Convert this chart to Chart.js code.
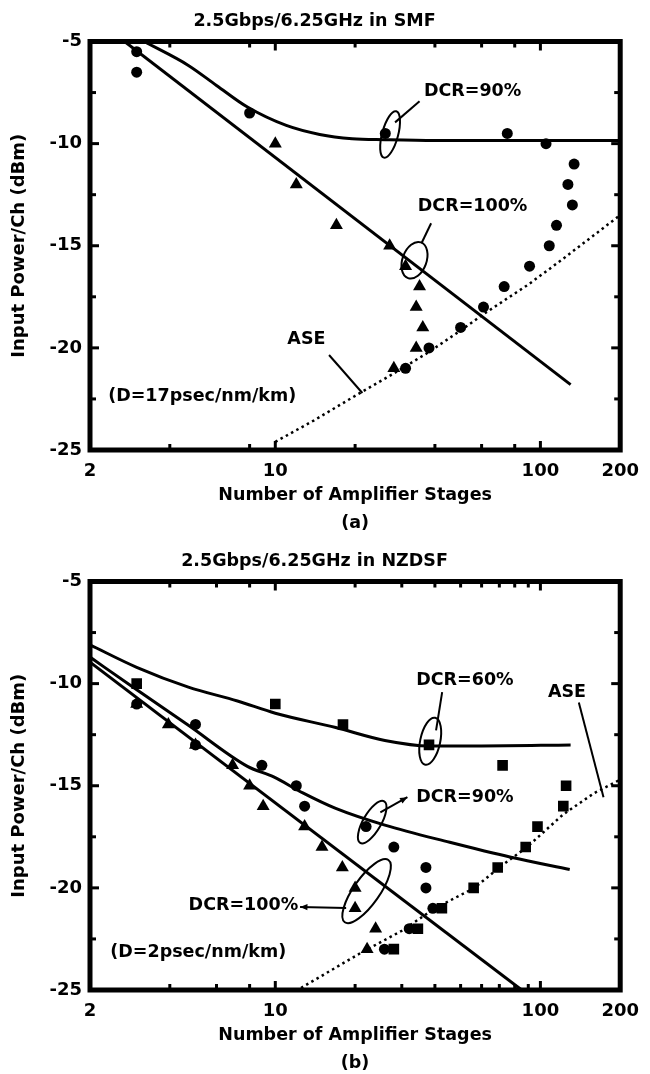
<!DOCTYPE html>
<html>
<head>
<meta charset="utf-8">
<title>Input power vs number of amplifier stages</title>
<script src="https://cdn.jsdelivr.net/npm/chart.js@4.4.1/dist/chart.umd.min.js"></script>
<style>
  body { margin: 0; background: #fff; overflow: hidden; }
  .panel { position: absolute; left: 0; width: 650px; height: 537px; }
</style>
</head>
<body>
<div class="panel" style="top:0"><canvas id="smfChart" width="650" height="537"></canvas></div>
<div class="panel" style="top:540px"><canvas id="nzdsfChart" width="650" height="537"></canvas></div>
<script>
// ---- axes ----
const stageTicks = [2, 10, 100, 200];
const majorStages = [10, 100];
const smfMinorStages = [4, 8, 20, 40, 60, 80];
const nzMinorStages = [4, 6, 8, 20, 30, 40, 50, 60, 70, 80, 90];
const powerTicks = [-25, -20, -15, -10, -5];
const majorPower = [-20, -15, -10];
const minorPower = [-22.5, -17.5, -12.5, -7.5];

// ---- (a) SMF, D = 17 ps/nm/km ----
const smf90X = [3, 3, 8, 26, 75, 105, 134, 127, 132, 115, 108, 91, 73, 61, 50, 38, 31];
const smf90Y = [-5.5, -6.5, -8.5, -9.5, -9.5, -10, -11, -12, -13, -14, -15, -16, -17, -18, -19, -20, -21];
const smf100X = [10, 12, 17, 27, 31, 35, 34, 36, 34, 28];
const smf100Y = [-10, -12, -14, -15, -16, -17, -18, -19, -20, -21];
const smfFit90X = [3.2, 4.7, 6, 7.85, 11, 14.7, 19.5, 26, 40, 200];
const smfFit90Y = [-5, -6.17, -7.15, -8.21, -9.11, -9.55, -9.76, -9.81, -9.85, -9.85];
const smfFit100X = [2.7, 130];
const smfFit100Y = [-5, -21.8];
const smfAseX = [10, 14, 20, 28, 38, 50, 61, 90, 120, 200];
const smfAseY = [-24.6, -23.55, -22.35, -21.25, -20.2, -19.15, -18.35, -16.9, -15.7, -13.5];

// ---- (b) NZDSF, D = 2 ps/nm/km ----
const nz60X = [3, 10, 18, 38, 72, 125, 122, 97.5, 88, 69, 56, 42.5, 34.5, 28];
const nz60Y = [-10, -11, -12, -13, -14, -15, -16, -17, -18, -19, -20, -21, -22, -23];
const nz90X = [3, 5, 5, 8.9, 12, 12.9, 22, 28, 37, 37, 39.3, 32, 25.8];
const nz90Y = [-11, -12, -13, -14, -15, -16, -17, -18, -19, -20, -21, -22, -23];
const nz100X = [3, 3.95, 5, 6.9, 8, 9, 12.9, 15, 17.9, 20, 20, 23.9, 22.2];
const nz100Y = [-11, -12, -13, -14, -15, -16, -17, -18, -19, -20, -21, -22, -23];
const nzFit60X = [2, 3, 4.7, 7.2, 10, 16.9, 25.9, 38, 60, 130];
const nzFit60Y = [-8.1, -9.2, -10.17, -10.85, -11.45, -12.15, -12.78, -13.05, -13.05, -13.0];
const nzFit90X = [2, 2.9, 4.7, 7.85, 9.86, 12.7, 16.9, 25.9, 45.5, 77.4, 129];
const nzFit90Y = [-8.7, -10.17, -12.04, -14.05, -14.57, -15.35, -16.11, -16.93, -17.77, -18.5, -19.1];
const nzFit100X = [2, 85];
const nzFit100Y = [-8.95, -25];
const nzAseX = [12.5, 20.9, 30, 40, 56.4, 70, 89, 122, 160, 200];
const nzAseY = [-24.9, -23.2, -22.1, -21.0, -20.0, -19.0, -18.0, -16.4, -15.35, -14.7];

Chart.defaults.font.family = '"DejaVu Sans", sans-serif';
Chart.defaults.font.weight = 'bold';
Chart.defaults.color = '#000';

const pts = (xs, ys) => xs.map((x, i) => ({ x, y: ys[i] }));

function markers(xs, ys, style, r) {
  return {
    data: pts(xs, ys), showLine: false,
    pointStyle: style, pointRadius: r,
    pointBackgroundColor: '#000', pointBorderWidth: 0
  };
}

function curve(xs, ys, smooth, dotted) {
  return {
    data: pts(xs, ys), showLine: true, pointRadius: 0,
    borderColor: '#000', borderWidth: dotted ? 2.5 : 3,
    borderDash: dotted ? [2.5, 3.5] : [],
    cubicInterpolationMode: smooth ? 'monotone' : 'default', tension: 0
  };
}

// frame with inward ticks, plus the hand-drawn callouts
const panelDecor = {
  id: 'panelDecor',
  afterDatasetsDraw(chart, _args, opts) {
    const { ctx, chartArea: a, scales: { x, y } } = chart;
    ctx.save();
    ctx.strokeStyle = '#000';
    ctx.fillStyle = '#000';
    ctx.lineWidth = 5;
    ctx.strokeRect(a.left, a.top, a.right - a.left, a.bottom - a.top);

    const seg = (x0, y0, x1, y1) => { ctx.beginPath(); ctx.moveTo(x0, y0); ctx.lineTo(x1, y1); ctx.stroke(); };
    ctx.lineWidth = 3;
    const xTick = (v, len) => {
      const px = x.getPixelForValue(v);
      seg(px, a.top, px, a.top + len);
      seg(px, a.bottom, px, a.bottom - len);
    };
    const yTick = (v, len) => {
      const py = y.getPixelForValue(v);
      seg(a.left, py, a.left + len, py);
      seg(a.right, py, a.right - len, py);
    };
    opts.minorStages.forEach(v => xTick(v, 6));
    majorStages.forEach(v => xTick(v, 9));
    minorPower.forEach(v => yTick(v, 6));
    majorPower.forEach(v => yTick(v, 9));

    ctx.lineWidth = 2;
    ctx.font = 'bold 17.5px "DejaVu Sans", sans-serif';
    ctx.textAlign = 'center';
    ctx.textBaseline = 'middle';
    opts.notes.forEach(n => {
      if (n.text) {
        ctx.fillText(n.text, x.getPixelForValue(n.x), y.getPixelForValue(n.y));
      } else if (n.ellipse) {
        ctx.beginPath();
        ctx.ellipse(x.getPixelForValue(n.x), y.getPixelForValue(n.y), n.ellipse[0], n.ellipse[1],
          n.ellipse[2] * Math.PI / 180, 0, Math.PI * 2);
        ctx.stroke();
      } else if (n.from) {
        const x0 = x.getPixelForValue(n.from[0]), y0 = y.getPixelForValue(n.from[1]);
        const x1 = x.getPixelForValue(n.to[0]), y1 = y.getPixelForValue(n.to[1]);
        seg(x0, y0, x1, y1);
        if (n.arrow) {
          const ang = Math.atan2(y1 - y0, x1 - x0);
          ctx.beginPath();
          ctx.moveTo(x1, y1);
          ctx.lineTo(x1 - 8 * Math.cos(ang - 0.4), y1 - 8 * Math.sin(ang - 0.4));
          ctx.lineTo(x1 - 8 * Math.cos(ang + 0.4), y1 - 8 * Math.sin(ang + 0.4));
          ctx.closePath();
          ctx.fill();
        }
      }
    });
    ctx.restore();
  }
};

function makePanel(id, title, tag, datasets, minorStages, notes) {
  return new Chart(document.getElementById(id), {
    type: 'scatter',
    data: { datasets },
    options: {
      responsive: false,
      animation: false,
      devicePixelRatio: 1,
      layout: { padding: { left: 0, right: 21, top: 0, bottom: 0 } },
      scales: {
        x: {
          type: 'logarithmic', min: 2, max: 200,
          afterBuildTicks: s => { s.ticks = stageTicks.map(v => ({ value: v })); },
          afterFit: s => { s.height = 87; },
          grid: { display: false, drawTicks: false },
          border: { display: false },
          ticks: { autoSkip: false, maxRotation: 0, padding: 11, font: { size: 18 }, callback: v => String(v) },
          title: {
            display: true, text: ['Number of Amplifier Stages', tag],
            font: { size: 17.5, lineHeight: 28 / 17.5 }, padding: { top: 0, bottom: 0 }
          }
        },
        y: {
          min: -25, max: -5,
          afterBuildTicks: s => { s.ticks = powerTicks.map(v => ({ value: v })); },
          afterFit: s => { s.width = 90; },
          grid: { display: false, drawTicks: false },
          border: { display: false },
          ticks: { padding: 8, font: { size: 18 } },
          title: { display: true, text: 'Input Power/Ch (dBm)', font: { size: 18 }, padding: { top: 9, bottom: 0 } }
        }
      },
      plugins: {
        legend: { display: false },
        tooltip: { enabled: false },
        title: { display: true, text: title, font: { size: 17.5 }, padding: { top: 10.5, bottom: 10 } },
        panelDecor: { minorStages, notes }
      }
    },
    plugins: [panelDecor]
  });
}

makePanel('smfChart', '2.5Gbps/6.25GHz in SMF', '(a)', [
  markers(smf90X, smf90Y, 'circle', 5.5),
  markers(smf100X, smf100Y, 'triangle', 7.5),
  curve(smfFit90X, smfFit90Y, true, false),
  curve(smfFit100X, smfFit100Y, false, false),
  curve(smfAseX, smfAseY, false, true)
], smfMinorStages, [
  { text: 'DCR=90%', x: 55.5, y: -7.44 },
  { text: 'DCR=100%', x: 55.5, y: -13.07 },
  { text: 'ASE', x: 13.1, y: -19.57 },
  { text: '(D=17psec/nm/km)', x: 5.3, y: -22.36 },
  { ellipse: [8, 24, 15], x: 27.1, y: -9.55 },
  { ellipse: [12, 19, 20], x: 33.5, y: -15.71 },
  { from: [28.3, -8.96], to: [35, -7.93] },
  { from: [35.6, -14.88], to: [38.7, -13.9] },
  { from: [15.95, -20.35], to: [21.3, -22.21] }
]);

makePanel('nzdsfChart', '2.5Gbps/6.25GHz in NZDSF', '(b)', [
  markers(nz60X, nz60Y, 'rect', 7.5),
  markers(nz90X, nz90Y, 'circle', 5.5),
  markers(nz100X, nz100Y, 'triangle', 7.5),
  curve(nzFit60X, nzFit60Y, true, false),
  curve(nzFit90X, nzFit90Y, true, false),
  curve(nzFit100X, nzFit100Y, false, false),
  curve(nzAseX, nzAseY, false, true)
], nzMinorStages, [
  { text: 'DCR=60%', x: 51.9, y: -9.84 },
  { text: 'ASE', x: 126, y: -10.43 },
  { text: 'DCR=90%', x: 51.9, y: -15.56 },
  { text: 'DCR=100%', x: 7.58, y: -20.84 },
  { text: '(D=2psec/nm/km)', x: 5.12, y: -23.14 },
  { ellipse: [10, 24, 12], x: 38.4, y: -12.82 },
  { ellipse: [9, 24, 30], x: 23.2, y: -16.78 },
  { ellipse: [13, 38, 35], x: 22.1, y: -20.16 },
  { from: [40.4, -12.29], to: [42.6, -10.42] },
  { from: [139.6, -10.92], to: [173, -15.56] },
  { from: [24.9, -16.3], to: [31.5, -15.56], arrow: true },
  { from: [18.5, -20.99], to: [12.4, -20.94], arrow: true }
]);
</script>
</body>
</html>
